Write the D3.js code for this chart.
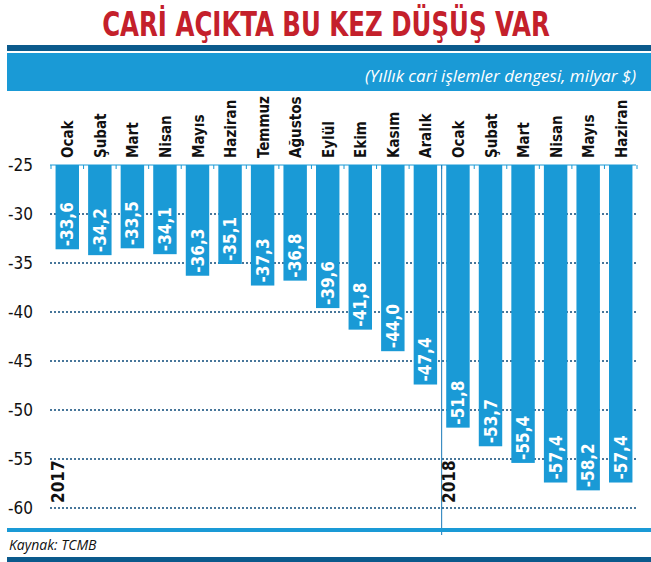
<!DOCTYPE html><html><head><meta charset="utf-8"><script src="https://d3js.org/d3.v7.min.js"></script>
<style>body{margin:0;background:#fff}</style></head><body><svg id="c" width="651" height="562"></svg>
<script>
const months=["Ocak","Şubat","Mart","Nisan","Mayıs","Haziran","Temmuz","Ağustos","Eylül","Ekim","Kasım","Aralık","Ocak","Şubat","Mart","Nisan","Mayıs","Haziran"];
const values=[-33.6,-34.2,-33.5,-34.1,-36.3,-35.1,-37.3,-36.8,-39.6,-41.8,-44.0,-47.4,-51.8,-53.7,-55.4,-57.4,-58.2,-57.4];
const yTicks=[-25,-30,-35,-40,-45,-50,-55,-60];
const years=["2017","2018"];
const svg=d3.select("#c");
const cond="'Liberation Sans Narrow','DejaVu Sans Condensed',sans-serif";
svg.append("text").attr("x",326).attr("y",36).attr("text-anchor","middle").attr("font-family",cond).attr("font-weight","bold").attr("font-size",34).attr("fill","#c4202b").attr("transform","translate(326,0) scale(0.8,1) translate(-326,0)").text("CARİ AÇIKTA BU KEZ DÜŞÜŞ VAR");
svg.append("rect").attr("x",7).attr("y",45).attr("width",644).attr("height",6).attr("fill","#0b5a8c");
svg.append("rect").attr("x",7).attr("y",53).attr("width",644).attr("height",38).attr("fill","#1a9ad6");
svg.append("text").attr("x",636).attr("y",82).attr("text-anchor","end").attr("font-family","'Open Sans',sans-serif").attr("font-style","italic").attr("font-size",17).attr("fill","#fff").text("(Yıllık cari işlemler dengesi, milyar $)");
const x=d3.scaleBand().domain(d3.range(months.length)).range([51,637]).paddingInner(0.28).paddingOuter(0.14);
const y=d3.scaleLinear().domain([-25,-60]).range([165,508]);
const g=svg.append("g");
g.selectAll(".gl").data(yTicks.slice(1)).join("line").attr("x1",50).attr("x2",636).attr("y1",d=>y(d)).attr("y2",d=>y(d)).attr("stroke","#0b4a7a").attr("stroke-width",1.3).attr("stroke-dasharray","2,2");
g.append("line").attr("x1",50).attr("x2",636).attr("y1",y(-25)).attr("y2",y(-25)).attr("stroke","#1a9ad6").attr("stroke-width",1);
g.selectAll(".tk").data(d3.range(19)).join("line").attr("x1",(d,i)=>51+i*(586/18)).attr("x2",(d,i)=>51+i*(586/18)).attr("y1",y(-25)).attr("y2",y(-25)+4).attr("stroke","#1a9ad6");
g.selectAll(".yl").data(yTicks).join("text").attr("x",8).attr("y",d=>y(d)+6).attr("font-family",cond).attr("font-size",17).attr("fill","#111").text(d=>d);
g.selectAll(".bar").data(values).join("rect").attr("x",(d,i)=>x(i)).attr("width",x.bandwidth()).attr("y",y(-25)).attr("height",d=>y(d)-y(-25)).attr("fill","#1a9ad6");
g.selectAll(".vl").data(values).join("text").attr("transform",(d,i)=>`translate(${x(i)+x.bandwidth()/2+6},${y(d)-3}) rotate(-90)`).attr("font-family",cond).attr("font-weight","bold").attr("font-size",17).attr("fill","#fff").text(d=>d.toFixed(1).replace(".",","));
g.selectAll(".ml").data(months).join("text").attr("transform",(d,i)=>`translate(${x(i)+x.bandwidth()/2+6},158) rotate(-90)`).attr("font-family",cond).attr("font-weight","bold").attr("font-size",15).attr("fill","#111").text(d=>d);
const sep=(x(11)+x.bandwidth()+x(12))/2;
g.append("line").attr("x1",sep).attr("x2",sep).attr("y1",y(-25)).attr("y2",535).attr("stroke","#1a7ab8").attr("stroke-width",1);
[0,12].forEach((k,j)=>g.append("text").attr("transform",`translate(${x(k)+x.bandwidth()/2-3},503) rotate(-90)`).attr("font-family",cond).attr("font-weight","bold").attr("font-size",17).attr("fill","#111").text(years[j]));
svg.append("rect").attr("x",7).attr("y",528).attr("width",644).attr("height",4).attr("fill","#1a9ad6");
svg.append("text").attr("x",9).attr("y",550).attr("font-family","'Open Sans',sans-serif").attr("font-style","italic").attr("font-size",14).attr("fill","#111").text("Kaynak: TCMB");
svg.append("rect").attr("x",7).attr("y",557).attr("width",644).attr("height",5).attr("fill","#0b5a8c");
</script></body></html>
